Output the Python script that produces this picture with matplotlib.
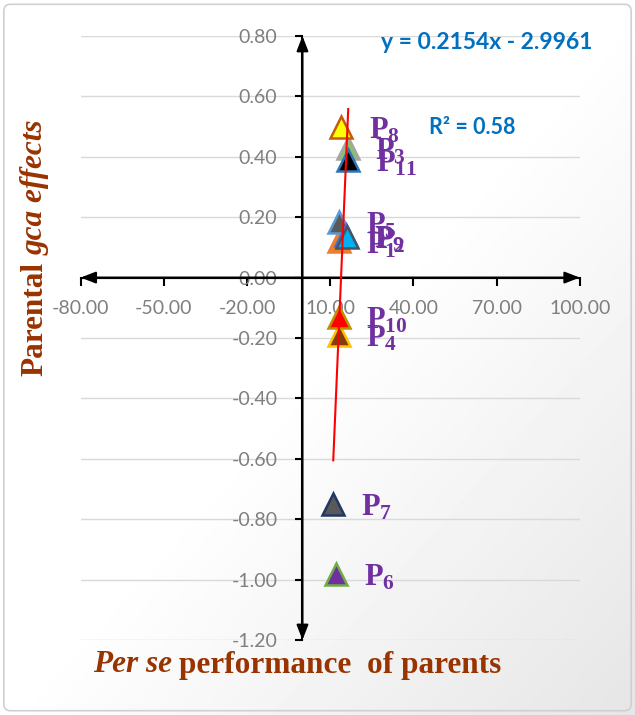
import numpy as np
import matplotlib
matplotlib.use("Agg")
import matplotlib.pyplot as plt
from matplotlib.patches import FancyBboxPatch

# parent labels (subscripts) and their coordinates
parents = ["1", "5", "9", "2", "3", "8", "11", "4", "10", "7", "6"]
per_se = [13.0, 13.0, 15.8, 16.0, 16.3, 14.0, 16.5, 13.0, 13.0, 11.1, 12.2]
gca = [0.12, 0.185, 0.14, 0.135, 0.43, 0.50, 0.39, -0.19, -0.13, -0.75, -0.98]

x_ticks = [-80, -50, -20, 10, 40, 70, 100]
y_ticks = [0.80, 0.60, 0.40, 0.20, 0.00, -0.20, -0.40, -0.60, -0.80, -1.00, -1.20]

slope, intercept = 0.2154, -2.9961
r_squared = 0.58

face = {"1": "#ED7D31", "5": "#595959", "9": "#4472C4", "2": "#00B0F0",
        "3": "#8FBF6A", "8": "#FFFF00", "11": "#000000", "4": "#843C0C",
        "10": "#FF0000", "7": "#595959", "6": "#7030A0"}
edge = {"1": "#ED7D31", "5": "#5B9BD5", "9": "#4472C4", "2": "#44546A",
        "3": "#A5A5A5", "8": "#C55A11", "11": "#2E75B6", "4": "#FFC000",
        "10": "#BF8F00", "7": "#1F3864", "6": "#70AD47"}

plt.rcParams["mathtext.fontset"] = "custom"
plt.rcParams["mathtext.rm"] = "Liberation Serif"
plt.rcParams["mathtext.bf"] = "Liberation Serif:bold"
plt.rcParams["mathtext.it"] = "Liberation Serif:italic"

fig = plt.figure(figsize=(6.35, 7.15), dpi=100)

# soft background gradient + border
bg = fig.add_axes([0, 0, 1, 1], zorder=-5)
gx, gy = np.meshgrid(np.linspace(0, 1, 200), np.linspace(0, 1, 200))
grad = 1.0 - 0.10 * np.clip((gx + gy) - 1.0, 0, None)
bg.imshow(grad, cmap="gray", vmin=0, vmax=1, extent=[0, 1, 0, 1],
          aspect="auto", origin="upper")
bg.add_patch(FancyBboxPatch((0.006, 0.006), 0.988, 0.988,
                            boxstyle="round,pad=0,rounding_size=0.01",
                            fc="none", ec="#d0d0d0", lw=1.2,
                            transform=bg.transAxes))
bg.set_xlim(0, 1)
bg.set_ylim(0, 1)
bg.axis("off")

ax = fig.add_axes([0.127, 0.1049, 0.786, 0.8448])
ax.set_facecolor("none")
ax.set_xlim(-80, 100)
ax.set_ylim(-1.2, 0.8)

for v in y_ticks:
    ax.axhline(v, color="#d9d9d9", lw=1.0, zorder=0)

for s in ["top", "right"]:
    ax.spines[s].set_visible(False)
ax.spines["left"].set_position(("data", 0))
ax.spines["bottom"].set_position(("data", 0))
for s in ["left", "bottom"]:
    ax.spines[s].set_color("black")
    ax.spines[s].set_linewidth(1.5)
    ax.spines[s].set_zorder(3)

ax.set_xticks(x_ticks)
ax.set_xticklabels([f"{v:.2f}" for v in x_ticks])
ax.set_yticks(y_ticks)
ax.set_yticklabels([f"{v:.2f}" for v in y_ticks])
ax.tick_params(axis="x", direction="out", length=6, width=1.5, pad=10,
               labelsize=14, labelcolor="#7f7f7f")
ax.tick_params(axis="y", direction="out", length=5, width=1.5, pad=13,
               labelsize=14, labelcolor="#7f7f7f")
for lab in ax.get_xticklabels() + ax.get_yticklabels():
    lab.set_family("Lato")

# arrow heads on both axes
arrow = dict(arrowstyle="<|-|>,head_length=0.9,head_width=0.35",
             color="black", lw=1.5, shrinkA=0, shrinkB=0)
ax.annotate("", xy=(100, 0), xytext=(-80, 0), arrowprops=arrow, zorder=4)
ax.annotate("", xy=(0, 0.8), xytext=(0, -1.2), arrowprops=arrow, zorder=4)

# markers and labels
for p, xv, yv in zip(parents, per_se, gca):
    ax.plot(xv, yv, marker="^", ms=15.5, mfc=face[p], mec=edge[p], mew=1.8,
            ls="none", zorder=5)
    ax.annotate(r"$\mathbf{P}_{\mathbf{" + p + "}}$", (xv, yv),
                xytext=(20, -8.5), textcoords="offset points",
                ha="left", va="baseline", fontsize=22, color="#7030A0",
                zorder=6)

# linear trend line
tx = np.array([min(per_se), max(per_se)])
ax.plot(tx, slope * tx + intercept, color="#FF0000", lw=1.5, zorder=7)

fig.text(0.767, 0.941, f"y = {slope}x - {abs(intercept)}", ha="center",
         va="center", fontsize=16.5, fontweight="bold", color="#0070C0",
         family="Lato")
fig.text(0.744, 0.821, f"R² = {r_squared}", ha="center", va="center",
         fontsize=15.5, fontweight="bold", color="#0070C0", family="Lato")


def mixed_label(parts, cx, cy, vertical=False):
    r = fig.canvas.get_renderer()
    W, H = fig.bbox.width, fig.bbox.height
    texts = []
    for s, style in parts:
        t = fig.text(0, 0, s, fontstyle=style, fontweight="bold",
                     family="Liberation Serif", fontsize=22.5, color="#993300",
                     rotation=90 if vertical else 0,
                     ha="center" if vertical else "left",
                     va="bottom" if vertical else "center")
        texts.append(t)
    gap = 7
    sizes = []
    for t in texts:
        e = t.get_window_extent(r)
        sizes.append(e.height if vertical else e.width)
    total = sum(sizes) + gap * (len(sizes) - 1)
    pos = (cy * H if vertical else cx * W) - total / 2
    for t, sz in zip(texts, sizes):
        if vertical:
            t.set_position((cx, pos / H))
        else:
            t.set_position((pos / W, cy))
        pos += sz + gap


fig.canvas.draw()
mixed_label([("Parental", "normal"), ("gca effects", "italic")],
            0.055, 1 - 248 / 715, vertical=True)
mixed_label([("Per se", "italic"), ("performance  of parents", "normal")],
            0.468, 1 - 665 / 715)

fig.savefig("out.png", dpi=100)
